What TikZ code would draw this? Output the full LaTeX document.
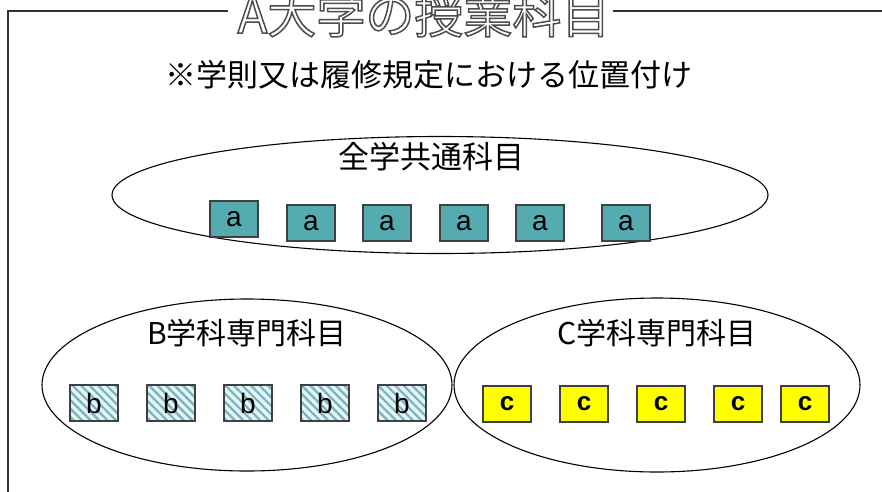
\documentclass[tikz,border=0pt]{standalone}
\usepackage{fontspec}
\setmainfont{Liberation Sans}
\newfontfamily\jp{Noto Sans CJK JP}
\usetikzlibrary{patterns.meta,shapes.geometric}
\definecolor{aFill}{HTML}{55ACB0}
\definecolor{hatchBg}{HTML}{D9FAFA}
\definecolor{hatchLn}{HTML}{8AAAB8}
\definecolor{cFill}{HTML}{FFFF00}
\definecolor{boxLn}{HTML}{404040}
\newcommand{\outlinetext}[1]{{\color{white}\special{pdf:literal direct 2 Tr 1.5 w 0.3 G}#1\special{pdf:literal direct 0 Tr}}}
\begin{document}
\begin{tikzpicture}[x=1pt,y=-1pt,
  frame/.style={line width=1.8pt, draw=black!80},
  region/.style={shape=ellipse, draw=black, line width=1.1pt, inner sep=0pt},
  jplabel/.style={font=\jp\fontsize{30}{30}\selectfont, inner sep=0pt},
  boxbase/.style={shape=rectangle, draw=boxLn, line width=1.3pt, minimum width=48pt, minimum height=36pt, inner sep=0pt, font=\fontsize{28}{28}\selectfont},
  abox/.style={boxbase, fill=aFill},
  bbox/.style={boxbase, preaction={fill=hatchBg}, pattern={Lines[angle=-45,distance=6pt,line width=2.2pt]}, pattern color=hatchLn},
  cbox/.style={boxbase, fill=cFill, font=\fontsize{26}{26}\selectfont\bfseries}
]
\useasboundingbox (0,0) rectangle (882,491);
% frame
\node[anchor=base, inner sep=0pt, font=\jp\fontsize{49}{49}\selectfont] (title) at (424,33) {\outlinetext{A大学の授業科目}};
\coordinate (tl) at (8,11);
\coordinate (bl) at (8,495);
\coordinate (gapL) at (228,11);
\coordinate (gapR) at (613,11);
\coordinate (tr) at (886,11);
\draw[frame] (gapL) -- (tl) -- (bl);
\draw[frame] (gapR) -- (tr);
% subtitle
\node[jplabel, font=\jp\fontsize{31}{31}\selectfont] (sub) at (429,75) {※学則又は履修規定における位置付け};
% common subjects
\node[region, minimum width=656pt, minimum height=117pt] (ea) at (440,195) {};
\node[jplabel, font=\jp\fontsize{31}{31}\selectfont] (la) at (431,157) {全学共通科目};
\node[abox] (a1) at (234,219) {a};
\node[abox] (a2) at (311,223) {a};
\node[abox] (a3) at (387,223) {a};
\node[abox] (a4) at (464,223) {a};
\node[abox] (a5) at (540,223) {a};
\node[abox] (a6) at (626,223) {a};
% B
\node[region, minimum width=410pt, minimum height=172pt] (eb) at (247,385) {};
\node[jplabel] (lb) at (247,333) {B学科専門科目};
\node[bbox] (b1) at (94,403) {b};
\node[bbox] (b2) at (171,403) {b};
\node[bbox] (b3) at (248,403) {b};
\node[bbox] (b4) at (325,403) {b};
\node[bbox] (b5) at (402,403) {b};
% C
\node[region, minimum width=406pt, minimum height=174pt] (ec) at (657,385) {};
\node[jplabel] (lc) at (657,333) {C学科専門科目};
\node[cbox] (c1) at (507,404) {c};
\node[cbox] (c2) at (584,404) {c};
\node[cbox] (c3) at (661,404) {c};
\node[cbox] (c4) at (738,404) {c};
\node[cbox] (c5) at (805,404) {c};
\end{tikzpicture}
\end{document}
